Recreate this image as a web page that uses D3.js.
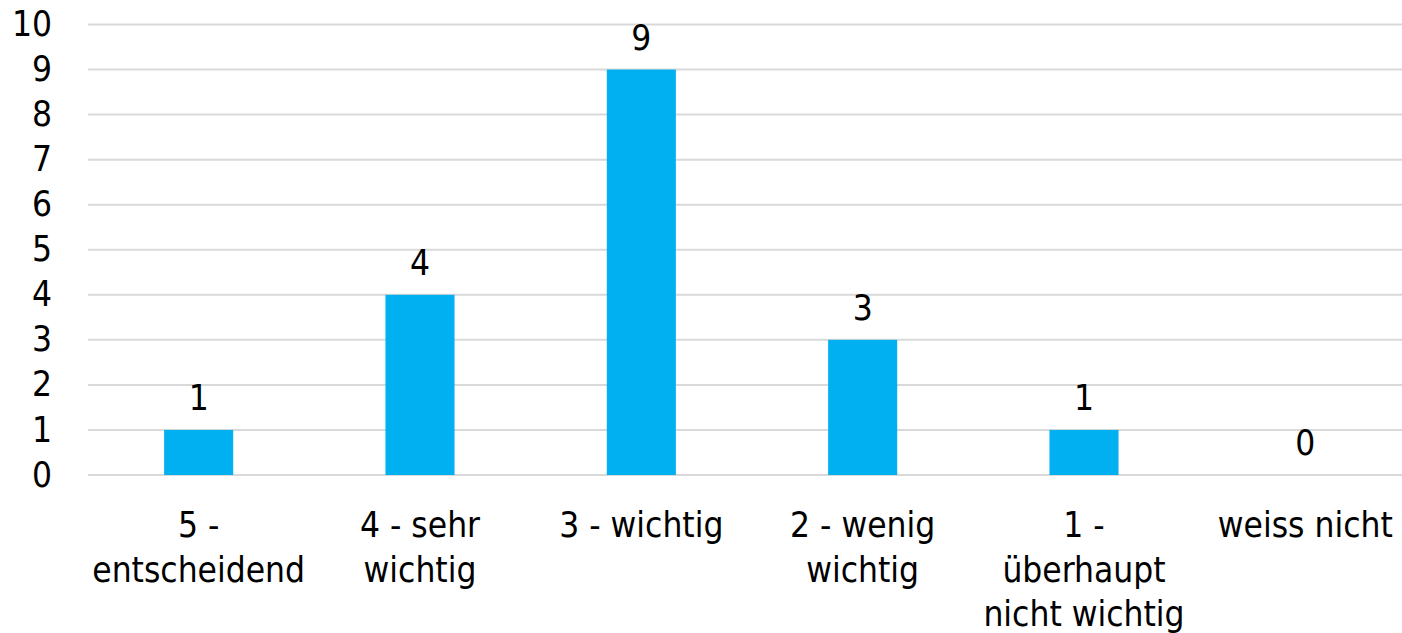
<!DOCTYPE html>
<html>
<head>
    <meta charset="utf-8">
    <style>
        body {
            margin: 0;
            background: #fff;
        }

        svg {
            display: block;
            font-family: 'DejaVu Sans Condensed', 'DejaVu Sans', Tahoma, sans-serif;
        }

        .grid line {
            stroke: #d9d9d9;
            stroke-width: 2px;
        }
    </style>
</head>
<body>
    <svg width="1402" height="633"></svg>

<script src="https://d3js.org/d3.v7.min.js"></script>
<script>
    // data
    let categories = ["5 - entscheidend", "4 - sehr wichtig", "3 - wichtig", "2 - wenig wichtig", "1 - überhaupt nicht wichtig", "weiss nicht"];
    // how each axis label breaks into lines
    let categoryLines = [
        ["5 -", "entscheidend"],
        ["4 - sehr", "wichtig"],
        ["3 - wichtig"],
        ["2 - wenig", "wichtig"],
        ["1 -", "überhaupt", "nicht wichtig"],
        ["weiss nicht"]
    ];
    let counts = [1, 4, 9, 3, 1, 0];
    let yTicks = [0, 1, 2, 3, 4, 5, 6, 7, 8, 9, 10];

    let margin = { top: 24.5, left: 88, right: -14, bottom: 158 };
    let width = 1402, height = 633;
    let fontSize = "35px";

    let svg = d3.select("svg");

    let x = d3.scaleBand()
        .domain(categories)
        .range([margin.left, width - margin.right])
        .paddingInner(0.688)
        .paddingOuter(0.344);

    let y = d3.scaleLinear()
        .domain([0, 10])
        .range([height - margin.bottom, margin.top]);

    // gridlines
    svg.append("g")
        .attr("class", "grid")
        .selectAll("line")
        .data(yTicks)
        .join("line")
        .attr("x1", margin.left)
        .attr("x2", width - margin.right)
        .attr("y1", d => y(d))
        .attr("y2", d => y(d));

    // y tick labels
    svg.append("g")
        .selectAll("text")
        .data(yTicks)
        .join("text")
        .attr("x", 52)
        .attr("y", d => y(d))
        .attr("dy", "0.33em")
        .attr("text-anchor", "end")
        .style("font-size", fontSize)
        .style("fill", "#000")
        .text(d => d);

    // bars
    svg.append("g")
        .selectAll("rect")
        .data(counts)
        .join("rect")
        .attr("x", (d, i) => x(categories[i]))
        .attr("width", x.bandwidth())
        .attr("y", d => y(d))
        .attr("height", d => y(0) - y(d))
        .style("fill", "#00b0f0");

    // value labels
    svg.append("g")
        .selectAll("text")
        .data(counts)
        .join("text")
        .attr("x", (d, i) => x(categories[i]) + x.bandwidth() / 2)
        .attr("y", d => y(d) - 20)
        .attr("text-anchor", "middle")
        .style("font-size", fontSize)
        .style("fill", "#000")
        .text(d => d);

    // category labels
    let cats = svg.append("g")
        .selectAll("text")
        .data(categories)
        .join("text")
        .attr("x", d => x(d) + x.bandwidth() / 2)
        .attr("y", 537)
        .attr("text-anchor", "middle")
        .style("font-size", fontSize)
        .style("fill", "#000");

    cats.selectAll("tspan")
        .data((d, i) => categoryLines[i])
        .join("tspan")
        .attr("x", function () { return d3.select(this.parentNode).attr("x"); })
        .attr("dy", (d, i) => i == 0 ? 0 : 44.5)
        .text(d => d);
</script>
</body>
</html>
